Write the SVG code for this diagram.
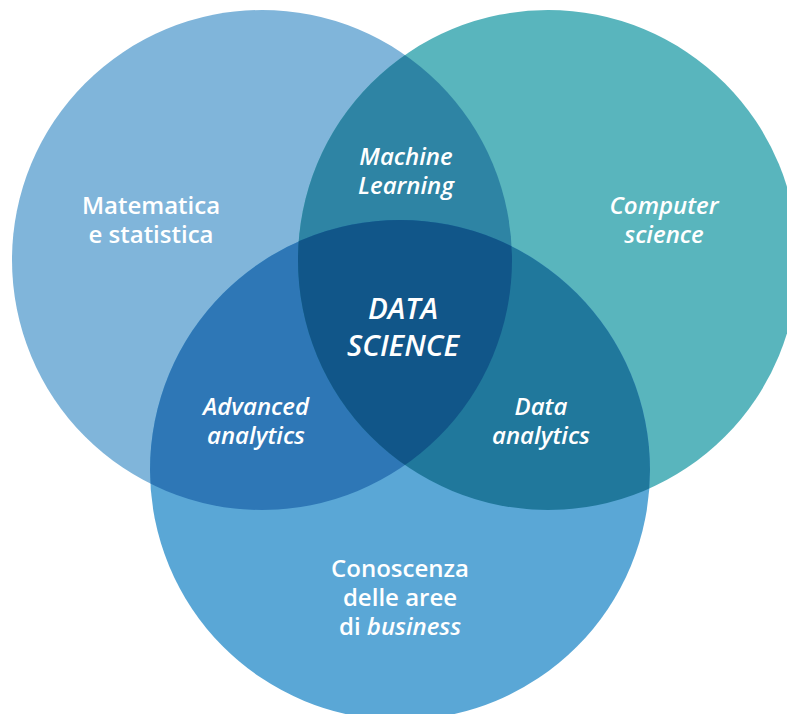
<svg xmlns="http://www.w3.org/2000/svg" width="787" height="714" viewBox="0 0 787 714">
<style>
.t{font-family:"Open Sans","Noto Sans","Liberation Sans",sans-serif;fill:#ffffff;text-anchor:middle;font-size:24px;font-weight:600}
.i{font-style:italic}
.b{font-size:29.5px}
</style>
<defs>
<clipPath id="k1"><circle cx="262" cy="260" r="250"/></clipPath>
<clipPath id="k2"><circle cx="548" cy="260" r="250"/></clipPath>
</defs>
<rect width="787" height="714" fill="#ffffff"/>
<g id="circles">
<circle id="c1" cx="262" cy="260" r="250" fill="#80b5da"/>
<circle id="c2" cx="548" cy="260" r="250" fill="#59b5bd"/>
<circle id="c3" cx="400" cy="470" r="250" fill="#5aa7d6"/>
<circle cx="548" cy="260" r="250" fill="#2e84a4" clip-path="url(#k1)"/>
<circle cx="400" cy="470" r="250" fill="#2e77b6" clip-path="url(#k1)"/>
<circle cx="400" cy="470" r="250" fill="#20789c" clip-path="url(#k2)"/>
<g clip-path="url(#k1)"><circle cx="400" cy="470" r="250" fill="#115689" clip-path="url(#k2)"/></g>
</g>
<g id="math"><text class="t" x="151" y="214">Matematica</text><text class="t" x="151" y="243">e statistica</text></g>
<g id="cs"><text class="t i" x="664" y="214">Computer</text><text class="t i" x="664" y="243">science</text></g>
<g id="biz"><text class="t" x="400" y="577">Conoscenza</text><text class="t" x="400" y="606">delle aree</text><text class="t" x="400" y="635">di <tspan class="i">business</tspan></text></g>
<g id="ml"><text class="t i" x="406" y="165">Machine</text><text class="t i" x="406" y="194">Learning</text></g>
<g id="adv"><text class="t i" x="256" y="415">Advanced</text><text class="t i" x="256" y="444">analytics</text></g>
<g id="da"><text class="t i" x="541" y="415">Data</text><text class="t i" x="541" y="444">analytics</text></g>
<g id="ds"><text class="t i b" x="403" y="319">DATA</text><text class="t i b" x="403" y="356">SCIENCE</text></g>
</svg>
